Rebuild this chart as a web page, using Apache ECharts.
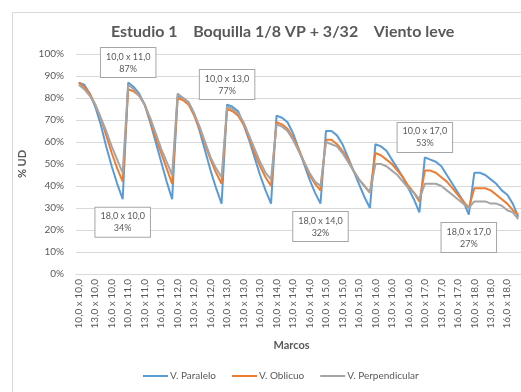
<!DOCTYPE html>
<html>
<head>
<meta charset="utf-8">
<script src="https://cdn.jsdelivr.net/npm/echarts@6/dist/echarts.min.js"></script>
<style>html,body{margin:0;padding:0;background:#fff}#c{width:521px;height:392px}</style>
</head>
<body>
<div id="c"></div>
<script>
const titleText = 'Estudio 1    Boquilla 1/8 VP + 3/32    Viento leve';
const firstDim = ['10,0','11,0','12,0','13,0','14,0','15,0','16,0','17,0','18,0'];
const secondDim = ['10,0','11,0','12,0','13,0','14,0','15,0','16,0','17,0','18,0'];
const seriesNames = ['V. Paralelo', 'V. Oblicuo', 'V. Perpendicular'];
const yTicks = [0,10,20,30,40,50,60,70,80,90,100];

const paralelo = [
  87, 86, 82, 76, 68, 58, 49, 41, 34,
  87, 85, 82, 77, 69, 60, 51, 42, 34,
  81, 80, 78, 73, 65, 56, 47, 39, 32,
  77, 76, 74, 68, 61, 53, 45, 38, 32,
  72, 71, 69, 64, 57, 50, 43, 37, 32,
  65, 65, 63, 59, 53, 47, 41, 35, 30,
  59, 58, 56, 52, 48, 44, 39, 34, 28,
  53, 52, 51, 49, 45, 41, 37, 33, 27,
  46, 46, 45, 43, 41, 38, 36, 32, 26
];
const oblicuo = [
  87, 85, 82, 77, 71, 63, 55, 48, 42,
  84, 83, 81, 77, 70, 62, 55, 48, 41,
  80, 79, 77, 72, 66, 59, 52, 46, 41,
  75, 74, 72, 68, 62, 55, 49, 44, 40,
  69, 68, 66, 62, 57, 51, 45, 41, 38,
  61, 61, 59, 56, 52, 47, 43, 40, 37,
  55, 54, 52, 50, 47, 44, 40, 37, 33,
  47, 47, 46, 44, 42, 39, 36, 33, 30,
  39, 39, 39, 38, 36, 34, 32, 29, 27
];
const perpendicular = [
  86, 84, 81, 77, 71, 65, 58, 52, 46,
  86, 84, 81, 77, 71, 64, 57, 51, 45,
  82, 80, 78, 73, 67, 60, 53, 48, 44,
  76, 75, 73, 69, 63, 57, 51, 46, 43,
  68, 67, 65, 61, 56, 51, 46, 42, 40,
  60, 59, 58, 55, 51, 47, 43, 40, 37,
  50, 50, 49, 47, 45, 42, 39, 37, 34,
  41, 41, 41, 40, 38, 36, 34, 32, 30,
  33, 33, 33, 32, 32, 31, 29, 28, 25
];
// categories labelled with callouts on the V. Paralelo series
const calloutAbove = ['10,0 x 11,0', '10,0 x 13,0', '10,0 x 17,0'];
const calloutBelow = ['18,0 x 10,0', '18,0 x 14,0', '18,0 x 17,0'];

const categories = [];
secondDim.forEach(s => firstDim.forEach(f => categories.push(f + ' x ' + s)));

const txt = '#595959';
const FONT = 'Lato';

function callout(cat, dy) {
  const i = categories.indexOf(cat);
  return {
    coord: [i, paralelo[i]],
    value: paralelo[i],
    label: { offset: [0, dy] }
  };
}
const markData = calloutAbove.map(c => callout(c, -20)).concat(calloutBelow.map(c => callout(c, 23)));

const chart = echarts.init(document.getElementById('c'), null, { renderer: 'canvas' });
chart.setOption({
  animation: false,
  backgroundColor: '#fff',
  textStyle: { fontFamily: FONT },
  graphic: [{
    type: 'rect', left: 10, top: 10, silent: true,
    shape: { width: 620, height: 500 },
    style: { fill: 'none', stroke: '#D9D9D9', lineWidth: 1 }
  }],
  title: {
    text: titleText, left: 106, top: 19,
    textStyle: { fontFamily: FONT, fontSize: 16, fontWeight: 'bold', color: txt }
  },
  legend: {
    bottom: 6, left: 138,
    icon: 'rect', itemWidth: 25, itemHeight: 2, itemGap: 16,
    textStyle: { fontFamily: FONT, fontSize: 10, color: txt, padding: [0, 0, 0, -3] },
    data: seriesNames
  },
  grid: { left: 76, right: -2, top: 54, bottom: 118, containLabel: false },
  xAxis: {
    type: 'category', data: categories, boundaryGap: true,
    name: 'Marcos', nameLocation: 'middle', nameGap: 66,
    nameTextStyle: { fontFamily: FONT, fontSize: 11, fontWeight: 'bold', color: txt, padding: [0, 14, 0, 0] },
    axisLine: { show: true, lineStyle: { color: '#D9D9D9' } },
    axisTick: { show: false },
    axisLabel: { interval: 2, rotate: 90, fontSize: 10, color: txt, fontFamily: FONT, margin: 5 }
  },
  yAxis: {
    type: 'value', min: 0, max: 100, interval: 10,
    name: '% UD', nameLocation: 'middle', nameGap: 40, nameRotate: 90,
    nameTextStyle: { fontFamily: FONT, fontSize: 11, fontWeight: 'bold', color: txt },
    axisLine: { show: false }, axisTick: { show: false },
    axisLabel: { formatter: v => yTicks.includes(v) ? v + '%' : '', fontSize: 10, color: txt, fontFamily: FONT, margin: 12 },
    splitLine: { lineStyle: { color: '#D9D9D9', width: 1 } }
  },
  series: [
    {
      name: seriesNames[0], type: 'line', data: paralelo, symbol: 'none',
      lineStyle: { color: '#5B9BD5', width: 2 }, itemStyle: { color: '#5B9BD5' },
      markPoint: {
        symbol: 'circle', symbolSize: 0, silent: true,
        label: {
          show: true, position: 'inside',
          formatter: p => categories[p.data.coord[0]] + '\n' + p.data.value + '%',
          fontFamily: FONT, fontSize: 9, lineHeight: 12, color: txt, align: 'center',
          backgroundColor: '#fff', borderColor: '#A6A6A6', borderWidth: 1,
          padding: [3, 5, 2, 5]
        },
        data: markData
      },
      z: 2
    },
    {
      name: seriesNames[1], type: 'line', data: oblicuo, symbol: 'none',
      lineStyle: { color: '#ED7D31', width: 2 }, itemStyle: { color: '#ED7D31' }, z: 3
    },
    {
      name: seriesNames[2], type: 'line', data: perpendicular, symbol: 'none',
      lineStyle: { color: '#A5A5A5', width: 2 }, itemStyle: { color: '#A5A5A5' }, z: 4
    }
  ]
});
</script>
</body>
</html>
